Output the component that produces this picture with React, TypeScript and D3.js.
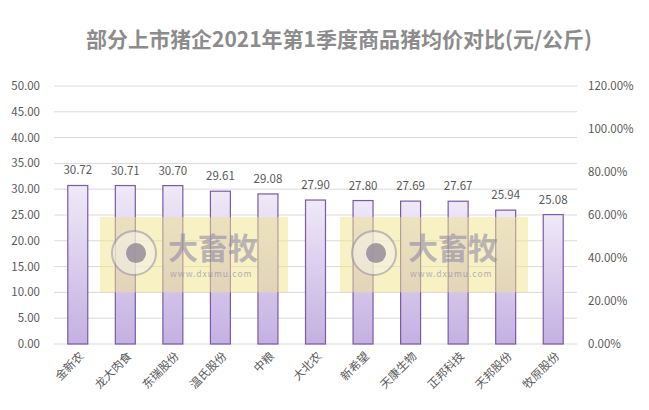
import { useEffect, useRef } from 'react'
import * as d3 from 'd3'

const companies = ['金新农', '龙大肉食', '东瑞股份', '温氏股份', '中粮', '大北农', '新希望', '天康生物', '正邦科技', '天邦股份', '牧原股份']
const prices = [30.72, 30.71, 30.70, 29.61, 29.08, 27.90, 27.80, 27.69, 27.67, 25.94, 25.08]
const leftTicks = [0, 5, 10, 15, 20, 25, 30, 35, 40, 45, 50]
const rightTicks = [0, 0.2, 0.4, 0.6, 0.8, 1.0, 1.2]

export default function App() {
  const svgRef = useRef<SVGSVGElement>(null)

  useEffect(() => {
    if (!svgRef.current) return
    d3.select(svgRef.current).selectAll('*').remove()

    const W = 649
    const H = 410
    const margin = { top: 86, right: 72, bottom: 66, left: 54 }
    const width = W - margin.left - margin.right
    const height = H - margin.top - margin.bottom
    const font = '"Microsoft YaHei", "Noto Sans CJK SC", "Noto Sans", sans-serif'

    const svg = d3.select(svgRef.current)
      .attr('width', W)
      .attr('height', H)
      .style('font-family', font)

    svg.append('rect').attr('width', W).attr('height', H).attr('fill', '#fff')

    // Title
    svg.append('text')
      .attr('x', 339)
      .attr('y', 47)
      .attr('text-anchor', 'middle')
      .style('font-size', '21px')
      .style('font-weight', 'bold')
      .attr('fill', '#8c8c8c')
      .text('部分上市猪企2021年第1季度商品猪均价对比(元/公斤)')

    const g = svg.append('g').attr('transform', `translate(${margin.left},${margin.top})`)

    const x = d3.scaleBand().domain(companies).range([0, width]).paddingInner(0.58).paddingOuter(0.29)
    const y = d3.scaleLinear().domain([0, 50]).range([height, 0])
    const y2 = d3.scaleLinear().domain([0, 1.2]).range([height, 0])

    // gridlines
    g.append('g').selectAll('line').data(leftTicks).enter().append('line')
      .attr('x1', 0).attr('x2', width)
      .attr('y1', d => y(d)).attr('y2', d => y(d))
      .attr('stroke', '#d9d9d9').attr('stroke-width', 1)

    // left labels
    g.append('g').selectAll('text').data(leftTicks).enter().append('text')
      .attr('x', -14).attr('y', d => y(d)).attr('dy', '0.35em')
      .attr('text-anchor', 'end')
      .style('font-size', '11.5px').attr('fill', '#595959')
      .text(d => d.toFixed(2))

    // right labels
    g.append('g').selectAll('text').data(rightTicks).enter().append('text')
      .attr('x', width + 11).attr('y', d => y2(d)).attr('dy', '0.35em')
      .attr('text-anchor', 'start')
      .style('font-size', '11.5px').attr('fill', '#595959')
      .text(d => (d * 100).toFixed(2) + '%')

    // gradient
    const defs = svg.append('defs')
    const grad = defs.append('linearGradient').attr('id', 'barGrad')
      .attr('x1', 0).attr('y1', 0).attr('x2', 0).attr('y2', 1)
    grad.append('stop').attr('offset', '0%').attr('stop-color', '#efe9f7')
    grad.append('stop').attr('offset', '100%').attr('stop-color', '#c4b0e2')

    // bars
    g.append('g').selectAll('rect').data(prices).enter().append('rect')
      .attr('x', (d, i) => x(companies[i])!)
      .attr('y', d => y(d))
      .attr('width', x.bandwidth())
      .attr('height', d => height - y(d))
      .attr('fill', 'url(#barGrad)')
      .attr('stroke', '#7a5aa6').attr('stroke-width', 1.2)

    // value labels
    g.append('g').selectAll('text').data(prices).enter().append('text')
      .attr('x', (d, i) => x(companies[i])! + x.bandwidth() / 2)
      .attr('y', d => y(d) - 11)
      .attr('text-anchor', 'middle')
      .style('font-size', '11.5px').attr('fill', '#595959')
      .text(d => d.toFixed(2))

    // watermark
    const wm = g.append('g')
    const boxes = [46, 286]
    boxes.forEach(bx => {
      const b = wm.append('g').attr('transform', `translate(${bx},${y(24.6)})`)
      b.append('rect').attr('width', 188).attr('height', y(10) - y(24.6))
        .attr('fill', '#f0e48a').attr('opacity', 0.5)
      b.append('circle').attr('cx', 34).attr('cy', 36).attr('r', 22)
        .attr('fill', '#f4f0e6').attr('opacity', 0.6)
        .attr('stroke', '#9c94ac').attr('stroke-width', 2)
      b.append('circle').attr('cx', 36).attr('cy', 36).attr('r', 10)
        .attr('fill', '#8e8796').attr('opacity', 0.8)
      b.append('text').attr('x', 68).attr('y', 42)
        .style('font-size', '30px').style('font-weight', 'bold')
        .attr('fill', '#8a83a6').attr('opacity', 0.55)
        .text('大畜牧')
      b.append('text').attr('x', 70).attr('y', 60)
        .style('font-size', '8.5px').style('letter-spacing', '1px')
        .attr('fill', '#8a83a6').attr('opacity', 0.6)
        .text('www.dxumu.com')
    })

    // x labels
    g.append('g').selectAll('text').data(companies).enter().append('text')
      .attr('transform', d => `translate(${x(d)! + x.bandwidth() / 2 + 4},${height + 10}) rotate(-45)`)
      .attr('text-anchor', 'end')
      .attr('dy', '0.35em')
      .style('font-size', '11.5px').attr('fill', '#595959')
      .text(d => d)
  }, [])

  return <svg ref={svgRef} style={{ position: 'absolute', left: 0, top: 0 }}></svg>
}
